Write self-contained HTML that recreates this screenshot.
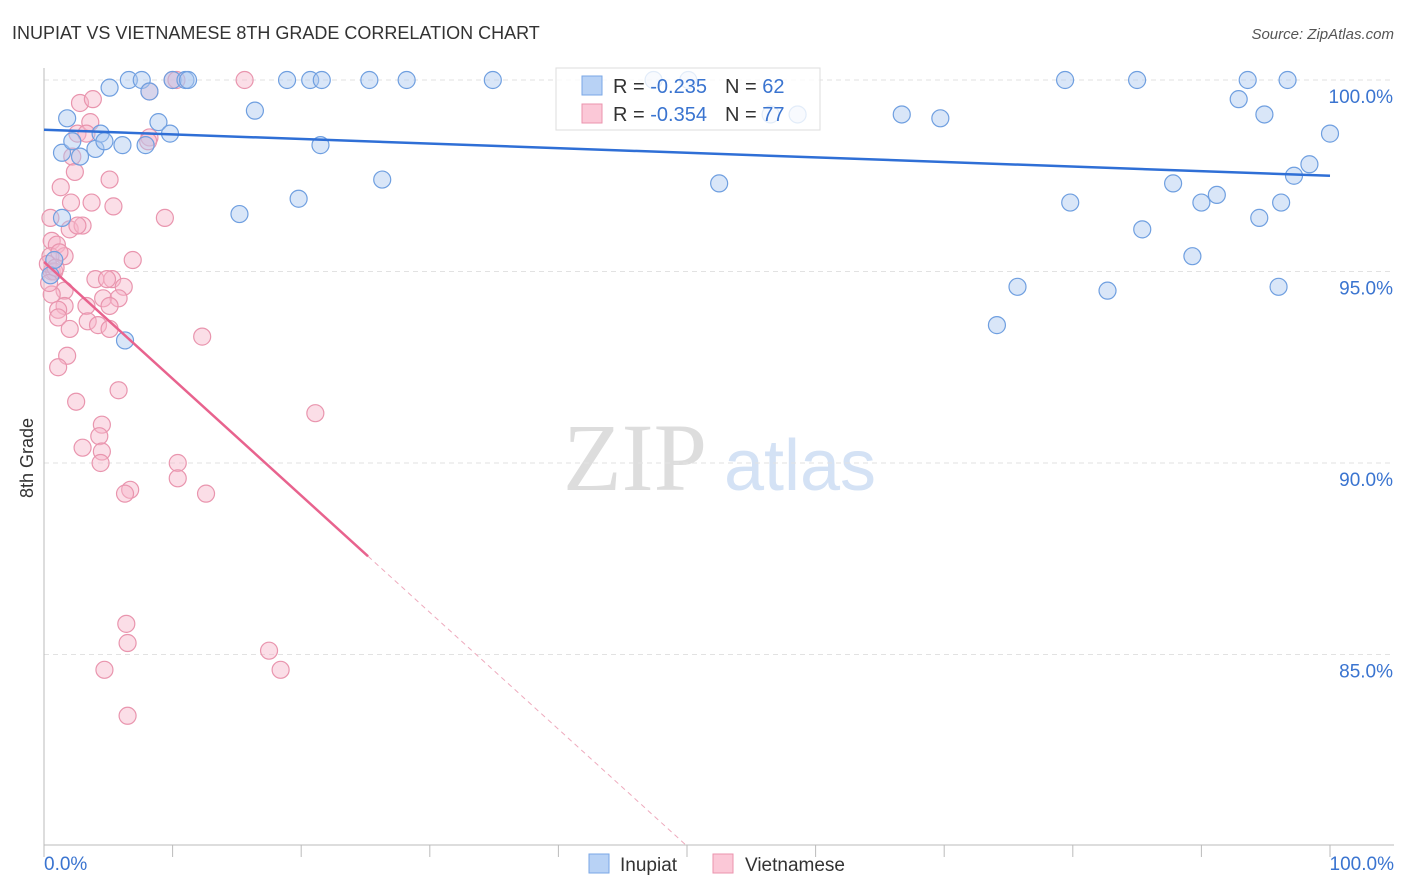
<!DOCTYPE html>
<html><head><meta charset="utf-8"><style>
body{margin:0;background:#fff;font-family:"Liberation Sans",sans-serif;}
svg{display:block}
</style></head><body>
<svg id="c" width="1406" height="892" xmlns="http://www.w3.org/2000/svg">
<text x="12" y="39" font-size="18" fill="#333">INUPIAT VS VIETNAMESE 8TH GRADE CORRELATION CHART</text>
<text x="1394" y="39" font-size="15" fill="#555" font-style="italic" text-anchor="end">Source: ZipAtlas.com</text>
<text x="33" y="458" font-size="18" fill="#333" transform="rotate(-90 33 458)" text-anchor="middle">8th Grade</text>
<g><text x="635" y="490" font-size="96" fill="#ddd" font-family="Liberation Serif" text-anchor="middle">ZIP</text><text x="800" y="490" font-size="72" fill="#d4e2f5" text-anchor="middle">atlas</text></g>
<g id="grid"></g><g id="axes"></g><g id="pts"></g><g id="trend"></g>
<g>
<rect x="556" y="68" width="264" height="62" fill="#fff" fill-opacity="0.8" stroke="#ddd"/>
<rect x="582" y="76" width="20" height="19" fill="#b8d2f5" stroke="#7aa7e6"/>
<rect x="582" y="104" width="20" height="19" fill="#fbc8d7" stroke="#eb93ae"/>
<text x="613" y="93" font-size="20" fill="#333">R = <tspan fill="#3a74d0">-0.235</tspan><tspan dx="18">N = </tspan><tspan fill="#3a74d0">62</tspan></text>
<text x="613" y="121" font-size="20" fill="#333">R = <tspan fill="#3a74d0">-0.354</tspan><tspan dx="18">N = </tspan><tspan fill="#3a74d0">77</tspan></text>
</g>
<g>
<rect x="589" y="854" width="20" height="19" fill="#b8d2f5" stroke="#7aa7e6"/>
<text x="620" y="871" font-size="19" fill="#333">Inupiat</text>
<rect x="713" y="854" width="20" height="19" fill="#fbc8d7" stroke="#eb93ae"/>
<text x="745" y="871" font-size="19" fill="#333">Vietnamese</text>
</g>
</svg>
<script>
const blueX=[1.4,1.8,2.2,2.8,4.0,4.4,4.7,5.1,6.1,6.3,6.6,7.6,7.9,8.2,8.9,9.8,10.0,11.0,11.2,15.2,16.4,18.9,19.8,20.7,21.6,21.5,25.3,26.3,28.2,34.9,47.4,50.1,52.5,56.5,58.6,66.7,69.7,74.1,75.7,79.4,79.8,82.7,85.0,85.4,87.8,89.3,90.0,91.2,92.9,93.6,94.5,94.9,96.0,96.2,96.7,97.2,98.4,100,0.5,1.4,0.8];
const blueY=[98.1,99.0,98.4,98.0,98.2,98.6,98.4,99.8,98.3,93.2,100,100,98.3,99.7,98.9,98.6,100,100,100,96.5,99.2,100,96.9,100,100,98.3,100,97.4,100,100,100,100,97.3,99.1,99.1,99.1,99.0,93.6,94.6,100,96.8,94.5,100,96.1,97.3,95.4,96.8,97.0,99.5,100,96.4,99.1,94.6,96.8,100,97.5,97.8,98.6,94.9,96.4,95.3];
const pinkX=[2.8,3.8,3.6,2.6,3.3,8.2,8.1,2.2,2.4,5.1,1.3,2.1,3.7,5.4,9.4,0.5,2.0,3.0,2.6,0.6,1.0,1.6,0.5,6.9,0.6,4.0,5.3,4.9,6.2,1.6,0.6,4.6,5.8,1.6,1.1,5.1,3.3,1.1,3.4,4.2,2.0,5.1,12.3,1.8,1.1,5.8,2.5,21.1,4.5,4.3,3.0,4.5,4.4,10.4,10.4,6.7,6.3,12.6,10.0,10.3,15.6,8.2,6.4,6.5,17.5,4.7,18.4,6.5,0.3,0.8,0.4,1.2,0.9];
const pinkY=[99.4,99.5,98.9,98.6,98.6,98.5,98.4,98.0,97.6,97.4,97.2,96.8,96.8,96.7,96.4,96.4,96.1,96.2,96.2,95.8,95.7,95.4,95.4,95.3,95.0,94.8,94.8,94.8,94.6,94.5,94.4,94.3,94.3,94.1,94.0,94.1,94.1,93.8,93.7,93.6,93.5,93.5,93.3,92.8,92.5,91.9,91.6,91.3,91.0,90.7,90.4,90.3,90.0,90.0,89.6,89.3,89.2,89.2,100,100,100,99.7,85.8,85.3,85.1,84.6,84.6,83.4,95.2,95.0,94.7,95.5,95.1];
const yTicks=[100,95,90,85];
const yTickLabels=["100.0%","95.0%","90.0%","85.0%"];
const blueTrend=[98.7,97.5]; // at x=0, x=100
const pinkTrend=[95.25,-0.305,25.2]; // intercept, slope, solid end
const X=v=>44+v*12.86, Y=v=>80+(100-v)*38.3;
const NS="http://www.w3.org/2000/svg";
function mk(t,a,p){const e=document.createElementNS(NS,t);for(const k in a)e.setAttribute(k,a[k]);p.appendChild(e);return e;}
const grid=document.getElementById('grid'),axes=document.getElementById('axes'),pts=document.getElementById('pts'),tr=document.getElementById('trend');
yTicks.forEach((t,i)=>{
 const l=mk('line',{x1:44,x2:1394,y1:Y(t),y2:Y(t),stroke:'#e2e2e2','stroke-dasharray':'5,4'},grid);
 
 
 const tx=mk('text',{x:1393,y:Y(t)+23,'font-size':19,fill:'#3a74d0','text-anchor':'end'},grid);
 tx.textContent=yTickLabels[i];
 
 
});
mk('line',{x1:44,x2:44,y1:68,y2:845,stroke:'#bbb'},axes);
mk('line',{x1:44,x2:1394,y1:845,y2:845,stroke:'#bbb'},axes);
for(let i=0;i<=10;i++){const t=mk('line',{x1:X(i*10),x2:X(i*10),y1:845,y2:857,stroke:'#bbb'},axes);
 
 }
const a0=mk('text',{x:44,y:870,'font-size':19,fill:'#3a74d0'},axes);a0.textContent='0.0%';


const a1=mk('text',{x:1394,y:870,'font-size':19,fill:'#3a74d0','text-anchor':'end'},axes);a1.textContent='100.0%';


pinkX.forEach((x,i)=>{const c=mk('circle',{cx:X(x),cy:Y(pinkY[i]),r:8.5,fill:'#f7b6ca','fill-opacity':0.45,stroke:'#e995ae','stroke-width':1.2},pts);
 
 });
blueX.forEach((x,i)=>{const c=mk('circle',{cx:X(x),cy:Y(blueY[i]),r:8.5,fill:'#aac8f0','fill-opacity':0.45,stroke:'#6f9fe0','stroke-width':1.2},pts);
 
 });
const bl=mk('line',{x1:X(0),y1:Y(blueTrend[0]),x2:X(100),y2:Y(blueTrend[1]),stroke:'#2f6fd6','stroke-width':2.5},tr);


const pe=pinkTrend[2], pz=(pinkTrend[0]-80)/-pinkTrend[1];
const pl=mk('line',{x1:X(0),y1:Y(pinkTrend[0]),x2:X(pe),y2:Y(pinkTrend[0]+pinkTrend[1]*pe),stroke:'#e8638e','stroke-width':2.5},tr);


const pd=mk('line',{x1:X(pe),y1:Y(pinkTrend[0]+pinkTrend[1]*pe),x2:X(pz),y2:Y(80),stroke:'#eeaabd','stroke-width':1,'stroke-dasharray':'5,4'},tr);


</script>
</body></html>
